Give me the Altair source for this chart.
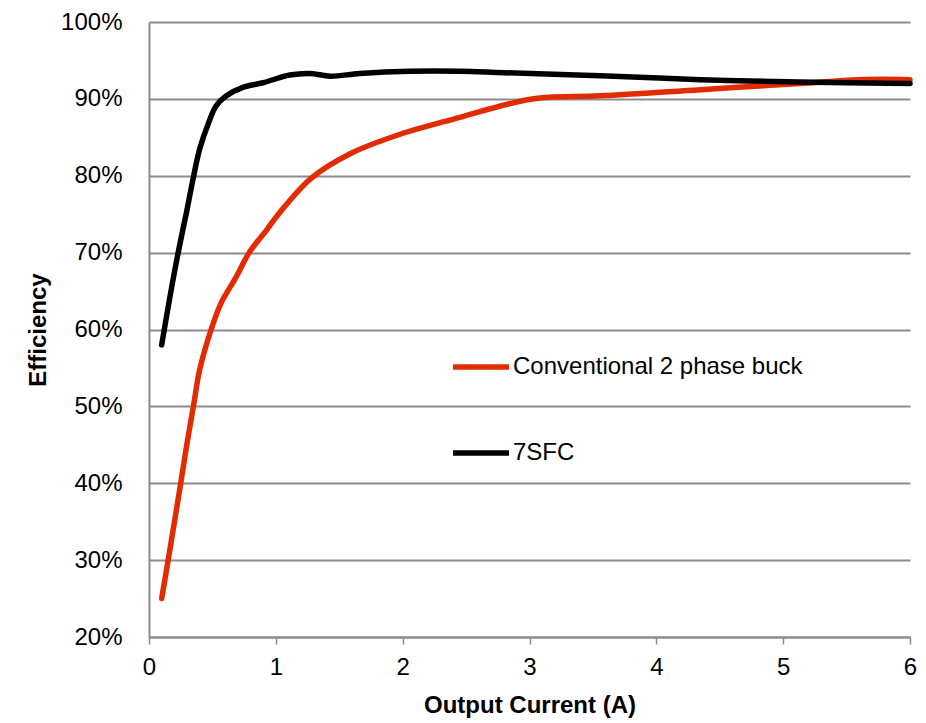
import altair as alt
import pandas as pd

series_names = ["Conventional 2 phase buck", "7SFC"]
series_colors = ["#e22b00", "#000000"]

sfc_current = [0.10, 0.17, 0.23, 0.30, 0.35, 0.40, 0.47, 0.53, 0.61, 0.74, 0.90, 1.11, 1.27, 1.43, 1.66, 2.06, 2.45, 2.8, 3.56, 4.35, 5.13, 6.0]
sfc_eff = [58.0, 64.7, 70.0, 75.6, 79.8, 83.5, 86.9, 89.1, 90.4, 91.5, 92.1, 93.1, 93.3, 92.95, 93.3, 93.6, 93.6, 93.4, 93.0, 92.5, 92.2, 92.0]

buck_current = [0.10, 0.17, 0.25, 0.30, 0.35, 0.40, 0.49, 0.57, 0.69, 0.79, 0.93, 1.02, 1.28, 1.59, 1.98, 2.45, 2.85, 3.08, 3.56, 4.35, 5.13, 5.6, 6.0]
buck_eff = [25.0, 31.9, 40.0, 45.2, 50.0, 54.8, 60.0, 63.5, 66.9, 70.0, 73.0, 75.0, 79.7, 82.9, 85.4, 87.6, 89.4, 90.1, 90.4, 91.2, 92.0, 92.5, 92.5]

x_ticks = [0, 1, 2, 3, 4, 5, 6]
y_ticks = [0.2, 0.3, 0.4, 0.5, 0.6, 0.7, 0.8, 0.9, 1.0]

rows = []
for x, y in zip(buck_current, buck_eff):
    rows.append({"current": x, "eff": y / 100, "series": series_names[0], "order": 0})
for x, y in zip(sfc_current, sfc_eff):
    rows.append({"current": x, "eff": y / 100, "series": series_names[1], "order": 1})
df = pd.DataFrame(rows)

font = "Liberation Sans"

chart = alt.Chart(df).mark_line(
    strokeWidth=5.5, strokeCap="round", strokeJoin="round", interpolate="catmull-rom"
).encode(
    x=alt.X("current:Q",
            scale=alt.Scale(domain=[0, 6], nice=False, zero=False),
            axis=alt.Axis(values=x_ticks, title="Output Current (A)", grid=False,
                          tickSize=7, tickWidth=1.5, tickColor="#8c8c8c",
                          domainColor="#8c8c8c", domainWidth=2, labelFlush=False,
                          labelPadding=11, titlePadding=14)),
    y=alt.Y("eff:Q",
            scale=alt.Scale(domain=[0.2, 1.0], nice=False, zero=False),
            axis=alt.Axis(values=y_ticks, format=".0%", title="Efficiency",
                          ticks=False, grid=True, gridColor="#8c8c8c", gridWidth=2,
                          domainColor="#8c8c8c", domainWidth=2, labelFlush=False,
                          labelPadding=27, titlePadding=10)),
    color=alt.Color("series:N",
                    scale=alt.Scale(domain=series_names, range=series_colors),
                    legend=alt.Legend(title=None, orient="none", legendX=301, legendY=314,
                                      symbolType="stroke", symbolSize=3136,
                                      symbolStrokeWidth=5.5, rowPadding=43,
                                      labelOffset=1, labelFontSize=24, labelFont=font,
                                      labelColor="#000000", labelLimit=0, padding=0)),
    order="order:Q",
).properties(
    width=761, height=615,
    padding={"left": 141, "top": 14, "right": 8, "bottom": 86},
    autosize=alt.AutoSizeParams(type="none"),
).configure_view(
    stroke=None
).configure_axis(
    labelFont=font, labelFontSize=24, labelColor="#000000",
    titleFont=font, titleFontSize=24, titleFontWeight="bold", titleColor="#000000",
)

chart.save("out.html", embed_options={"renderer": "svg", "actions": False})
